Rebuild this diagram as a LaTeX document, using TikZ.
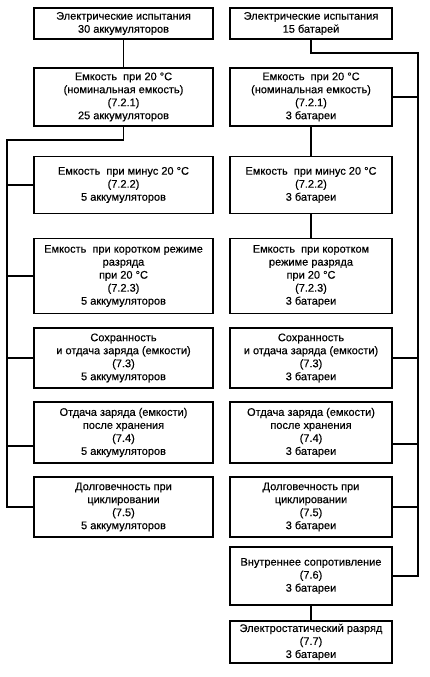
\documentclass[tikz,border=0pt]{standalone}
\usepackage{fontspec}
\setmainfont{Liberation Sans}
\newfontfamily\boxfont{Liberation Sans}[FakeBold=0.3]
\usetikzlibrary{calc}
\tikzset{
  box/.style={draw, line width=1.8pt, rectangle, align=center, inner sep=0pt,
    font=\boxfont\fontsize{11}{13}\selectfont},
  lbox/.style={box, minimum width=179pt},
  rbox/.style={box, minimum width=162pt},
  conn/.style={line width=1.8pt}
}
\begin{document}
\begin{tikzpicture}[x=1pt,y=-1pt]
\path[use as bounding box, fill=white] (0,0) rectangle (429,677);
% left column
\node[lbox, minimum height=31pt] (L1) at (123.5,23.5) {Электрические испытания\\30 аккумуляторов};
\node[lbox, minimum height=58pt] (L2) at (123.5,97) {Емкость\ \ при 20 °C\\(номинальная емкость)\\(7.2.1)\\25 аккумуляторов};
\node[lbox, minimum height=57pt] (L3) at (123.5,185) {Емкость\ \ при минус 20 °C\\(7.2.2)\\5 аккумуляторов};
\node[lbox, minimum height=75pt] (L4) at (123.5,276) {Емкость\ \ при коротком режиме\\разряда\\при 20 °C\\(7.2.3)\\5 аккумуляторов};
\node[lbox, minimum height=60pt] (L5) at (123.5,358) {Сохранность\\и отдача заряда (емкости)\\(7.3)\\5 аккумуляторов};
\node[lbox, minimum height=61pt] (L6) at (123.5,432.5) {Отдача заряда (емкости)\\после хранения\\(7.4)\\5 аккумуляторов};
\node[lbox, minimum height=60pt] (L7) at (123.5,507) {Долговечность при\\циклировании\\(7.5)\\5 аккумуляторов};
% right column
\node[rbox, minimum height=31pt] (R1) at (311,23.5) {Электрические испытания\\15 батарей};
\node[rbox, minimum height=58pt] (R2) at (311,97) {Емкость\ \ при 20 °C\\(номинальная емкость)\\(7.2.1)\\3 батареи};
\node[rbox, minimum height=57pt] (R3) at (311,185) {Емкость\ \ при минус 20 °C\\(7.2.2)\\3 батареи};
\node[rbox, minimum height=75pt] (R4) at (311,276) {Емкость\ \ при коротком\\режиме разряда\\при 20 °C\\(7.2.3)\\3 батареи};
\node[rbox, minimum height=60pt] (R5) at (311,358) {Сохранность\\и отдача заряда (емкости)\\(7.3)\\3 батареи};
\node[rbox, minimum height=61pt] (R6) at (311,432.5) {Отдача заряда (емкости)\\после хранения\\(7.4)\\3 батареи};
\node[rbox, minimum height=60pt] (R7) at (311,507) {Долговечность при\\циклировании\\(7.5)\\3 батареи};
\node[rbox, minimum height=58pt] (R8) at (311,576) {Внутреннее сопротивление\\(7.6)\\3 батареи};
\node[rbox, minimum height=42pt] (R9) at (311,642) {Электростатический разряд\\(7.7)\\3 батареи};
% left connectors
\coordinate (lt) at (7,140);
\draw[conn] (L1) -- (L2);
\draw[conn] (L2.south) |- (lt) |- (L7.west);
\draw[conn] (L3.west) -- (L3.west -| lt);
\draw[conn] (L4.west) -- (L4.west -| lt);
\draw[conn] (L5.west) -- (L5.west -| lt);
\draw[conn] ([yshift=-13.5pt]L6.west) -- ([yshift=-13.5pt]L6.west -| lt);
% right connectors
\coordinate (rt) at (418,53);
\draw[conn] (R1.south) |- (rt) |- (R8.east);
\draw[conn] (R2.east) -- (R2.east -| rt);
\draw[conn] (R5.east) -- (R5.east -| rt);
\draw[conn] ([yshift=-11.5pt]R6.east) -- ([yshift=-11.5pt]R6.east -| rt);
\draw[conn] (R7.east) -- (R7.east -| rt);
\draw[conn] (R2) -- (R3);
\draw[conn] (R3) -- (R4);
\draw[conn] (R8) -- (R9);
\end{tikzpicture}
\end{document}
